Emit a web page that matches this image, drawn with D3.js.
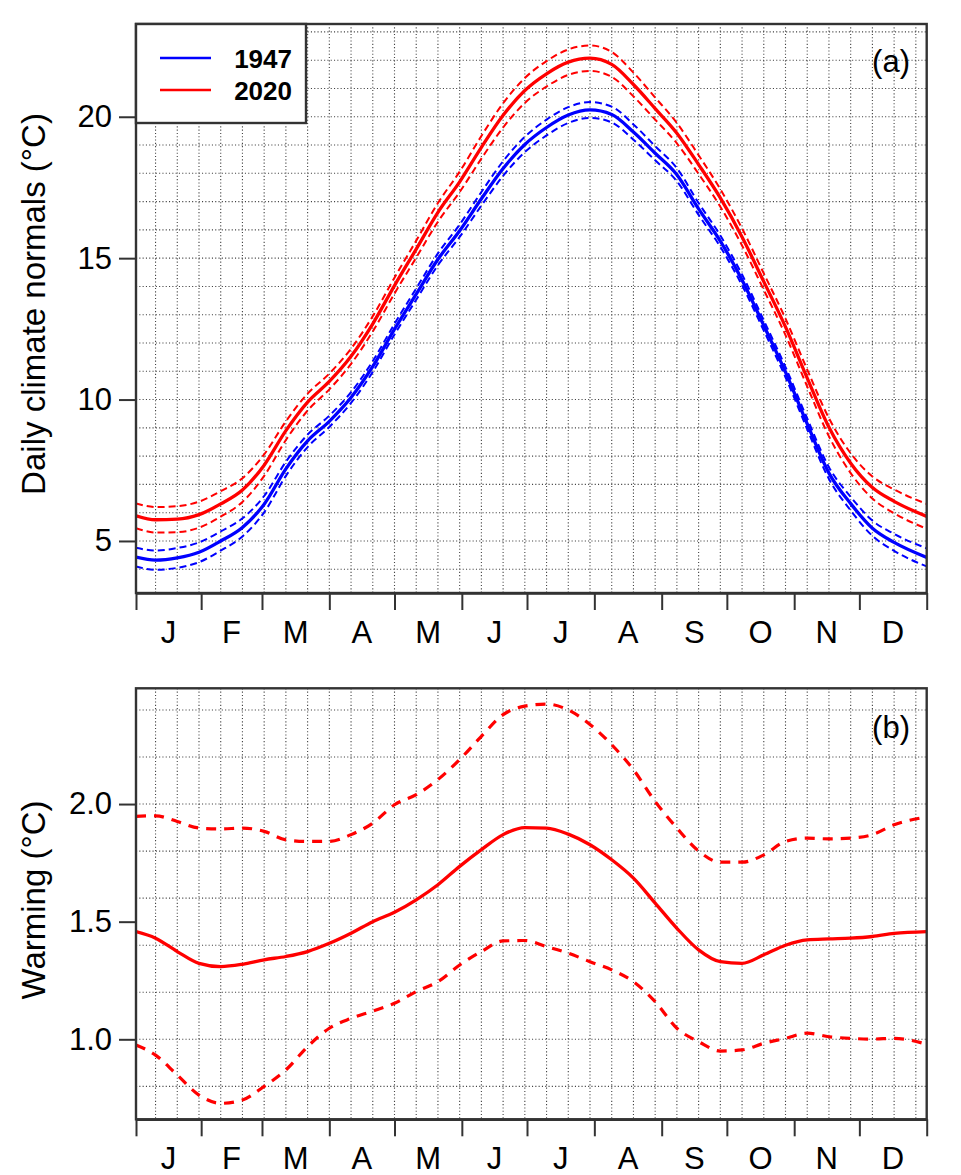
<!DOCTYPE html>
<html>
<head>
<meta charset="utf-8">
<script src="https://cdn.jsdelivr.net/npm/d3@7"></script>
<style>
  html, body { margin: 0; padding: 0; background: #fff; }
  svg { display: block; font-family: "Liberation Sans", Arial, Helvetica, sans-serif; }
</style>
</head>
<body>
<svg id="chart" width="961" height="1175"></svg>
<script>
// ---------------- DATA ----------------
const days = [1,10,20,30,40,50,60,70,80,90,100,110,120,130,140,150,160,170,180,190,200,210,220,230,240,250,260,270,280,290,300,310,320,330,340,350,365];

// Panel (a): daily climate normals (°C)
const normals1947 = [4.43,4.32,4.40,4.60,5.00,5.48,6.30,7.55,8.54,9.23,10.07,11.17,12.49,13.73,14.96,15.97,17.10,18.17,19.02,19.62,20.06,20.24,20.08,19.46,18.71,17.95,16.74,15.60,14.23,12.62,10.97,9.14,7.40,6.32,5.45,4.95,4.42];
const normals1947Upper = [4.76,4.66,4.75,4.95,5.34,5.80,6.59,7.80,8.76,9.43,10.26,11.36,12.68,13.93,15.17,16.19,17.34,18.43,19.29,19.90,20.34,20.52,20.36,19.73,18.96,18.18,16.95,15.80,14.42,12.80,11.15,9.33,7.61,6.56,5.72,5.25,4.74];
const normals1947Lower = [4.10,3.98,4.05,4.25,4.66,5.16,6.01,7.30,8.32,9.03,9.88,10.98,12.30,13.53,14.75,15.75,16.86,17.91,18.75,19.34,19.78,19.96,19.80,19.19,18.46,17.72,16.53,15.40,14.04,12.44,10.79,8.95,7.19,6.08,5.18,4.65,4.10];

const normals2020 = [5.89,5.75,5.77,5.93,6.31,6.80,7.68,8.90,9.91,10.64,11.53,12.68,14.03,15.32,16.62,17.70,18.92,20.05,20.93,21.52,21.93,22.07,21.85,21.14,20.29,19.42,18.31,17.13,15.75,14.17,12.57,10.76,9.02,7.75,6.89,6.40,5.87];
const normals2020Upper = [6.33,6.20,6.23,6.39,6.76,7.22,8.06,9.23,10.21,10.92,11.80,12.95,14.31,15.62,16.95,18.06,19.32,20.48,21.37,21.97,22.38,22.52,22.29,21.56,20.68,19.78,18.64,17.44,16.05,14.46,12.86,11.06,9.34,8.10,7.28,6.82,6.31];
const normals2020Lower = [5.45,5.30,5.31,5.47,5.86,6.38,7.30,8.57,9.61,10.36,11.26,12.41,13.75,15.02,16.29,17.34,18.52,19.62,20.49,21.07,21.48,21.62,21.41,20.72,19.90,19.06,17.98,16.82,15.45,13.88,12.28,10.46,8.70,7.40,6.50,5.98,5.43];

// Panel (b): warming (°C)
const warming = [1.458,1.430,1.373,1.323,1.309,1.319,1.338,1.352,1.373,1.408,1.451,1.500,1.540,1.593,1.657,1.735,1.806,1.870,1.900,1.898,1.872,1.827,1.763,1.685,1.579,1.472,1.380,1.330,1.323,1.359,1.400,1.423,1.427,1.430,1.437,1.450,1.458];
const warmingUpper = [1.948,1.950,1.926,1.898,1.894,1.898,1.884,1.848,1.841,1.841,1.870,1.919,1.997,2.040,2.104,2.189,2.288,2.380,2.416,2.425,2.400,2.338,2.252,2.146,2.011,1.898,1.800,1.753,1.753,1.784,1.841,1.855,1.852,1.855,1.870,1.912,1.945];
const warmingLower = [0.976,0.933,0.848,0.763,0.728,0.742,0.800,0.870,0.969,1.047,1.089,1.120,1.153,1.203,1.245,1.316,1.373,1.418,1.420,1.394,1.366,1.330,1.295,1.245,1.160,1.047,0.990,0.950,0.955,0.983,1.004,1.026,1.011,1.004,1.001,1.004,0.979];

// Axis labels
const monthStarts = [1,31,59,90,120,151,181,212,243,273,304,334,365];
const monthLabels = ["J","F","M","A","M","J","J","A","S","O","N","D"];
const yTicksA = [5,10,15,20];
const yTicksB = [1.0,1.5,2.0];
const legendYears = ["1947","2020"];

// ---------------- DRAW ----------------
const svg = d3.select("#chart");
const left = 136, right = 926.7;
const FONT = 31;
const frameColor = "#333";
const gridColor = "#444";

const x = d3.scaleLinear().domain([1, 365]).range([left, right]);

function panel(cfg) {
  const { top, bottom, yDomain, hGrid, yTicks, tickFmt, series, label, ylabel, ylabelY } = cfg;
  const y = d3.scaleLinear().domain(yDomain).range([bottom, top]);
  const g = svg.append("g");

  g.append("rect").attr("x", left).attr("y", top).attr("width", right - left).attr("height", bottom - top).attr("fill", "#fff");

  // grid
  const gridG = g.append("g").attr("stroke", gridColor).attr("stroke-width", 1.1).attr("stroke-dasharray", "1.1,2.2");
  gridG.selectAll("line.v").data(d3.range(10, 361, 10)).join("line")
    .attr("x1", d => x(d)).attr("x2", d => x(d)).attr("y1", top).attr("y2", bottom);
  gridG.selectAll("line.h").data(hGrid).join("line")
    .attr("x1", left).attr("x2", right).attr("y1", d => y(d)).attr("y2", d => y(d));

  // series
  const clipId = "clip" + label.replace(/[()]/g, "");
  svg.append("clipPath").attr("id", clipId).append("rect")
    .attr("x", left).attr("y", top).attr("width", right - left).attr("height", bottom - top);
  const sg = g.append("g").attr("clip-path", `url(#${clipId})`);
  series.forEach(s => {
    const line = d3.line().x((d, i) => x(days[i])).y(d => y(d)).curve(d3.curveMonotoneX);
    sg.append("path").datum(s.values).attr("d", line)
      .attr("fill", "none").attr("stroke", s.color).attr("stroke-width", s.width)
      .attr("stroke-dasharray", s.dash || null)
      .attr("stroke-linecap", s.dash ? "butt" : "round")
      .attr("stroke-linejoin", "round");
  });

  // frame
  g.append("rect").attr("x", left).attr("y", top).attr("width", right - left).attr("height", bottom - top)
    .attr("fill", "none").attr("stroke", frameColor).attr("stroke-width", 2.4);

  // x axis ticks
  const xAxis = d3.axisBottom(x).tickValues(monthStarts).tickFormat("").tickSize(17).tickSizeOuter(0);
  const xg = g.append("g").attr("transform", `translate(0,${bottom})`).call(xAxis);
  xg.select(".domain").attr("stroke", frameColor).attr("stroke-width", 2.4);
  xg.selectAll(".tick line").attr("stroke", frameColor).attr("stroke-width", 2);

  // month labels
  g.selectAll("text.month").data(monthLabels).join("text")
    .attr("x", (d, i) => (x(monthStarts[i]) + x(monthStarts[i + 1])) / 2)
    .attr("y", bottom + 50)
    .attr("text-anchor", "middle").attr("font-size", FONT).attr("fill", "#000")
    .text(d => d);

  // y axis
  const yAxis = d3.axisLeft(y).tickValues(yTicks).tickFormat(tickFmt).tickSize(17).tickPadding(7).tickSizeOuter(0);
  const yg = g.append("g").attr("transform", `translate(${left},0)`).call(yAxis);
  yg.select(".domain").remove();
  yg.selectAll(".tick line").attr("stroke", frameColor).attr("stroke-width", 2);
  yg.selectAll(".tick text").attr("font-size", FONT).attr("fill", "#000")
    .attr("font-family", "'Liberation Sans', Arial, Helvetica, sans-serif");

  // y label
  g.append("text").attr("transform", `translate(45,${ylabelY}) rotate(-90)`)
    .attr("text-anchor", "middle").attr("font-size", 33).attr("fill", "#000").text(ylabel);

  // panel label
  g.append("text").attr("x", 910).attr("y", cfg.labelY).attr("text-anchor", "end")
    .attr("font-size", 31).attr("fill", "#000").text(label);

  return { g, y };
}

panel({
  top: 24, bottom: 593, yDomain: [3.16, 23.28],
  hGrid: d3.range(4, 24, 1), yTicks: yTicksA, tickFmt: d3.format("d"),
  series: [
    { values: normals1947, color: "#0000ff", width: 3.3 },
    { values: normals2020, color: "#ff0000", width: 3.3 },
    { values: normals1947Upper, color: "#0000ff", width: 2, dash: "7,4" },
    { values: normals1947Lower, color: "#0000ff", width: 2, dash: "7,4" },
    { values: normals2020Upper, color: "#ff0000", width: 2, dash: "7,4" },
    { values: normals2020Lower, color: "#ff0000", width: 2, dash: "7,4" }
  ],
  label: "(a)", labelY: 72, ylabel: "Daily climate normals (°C)", ylabelY: 304
});

panel({
  top: 688.3, bottom: 1119.3, yDomain: [0.66, 2.492],
  hGrid: [0.8,1.0,1.2,1.4,1.6,1.8,2.0,2.2,2.4], yTicks: yTicksB, tickFmt: d3.format(".1f"),
  series: [
    { values: warmingUpper, color: "#ff0000", width: 3.2, dash: "10,8" },
    { values: warmingLower, color: "#ff0000", width: 3.2, dash: "10,8" },
    { values: warming, color: "#ff0000", width: 3.3 }
  ],
  label: "(b)", labelY: 738, ylabel: "Warming (°C)", ylabelY: 900
});

// legend (panel a)
const lg = svg.append("g");
lg.append("rect").attr("x", 136).attr("y", 24).attr("width", 170).attr("height", 99)
  .attr("fill", "#fff").attr("stroke", frameColor).attr("stroke-width", 2.4);
const legendColors = ["#0000ff", "#ff0000"];
lg.selectAll("line.leg").data(legendYears).join("line")
  .attr("x1", 160).attr("x2", 211)
  .attr("y1", (d, i) => 58 + i * 32).attr("y2", (d, i) => 58 + i * 32)
  .attr("stroke", (d, i) => legendColors[i]).attr("stroke-width", 2.6);
lg.selectAll("text.leg").data(legendYears).join("text")
  .attr("x", 292).attr("y", (d, i) => 58 + i * 32 + 9.5)
  .attr("text-anchor", "end").attr("font-size", 26).attr("font-weight", "bold").attr("fill", "#000")
  .text(d => d);
</script>
</body>
</html>
